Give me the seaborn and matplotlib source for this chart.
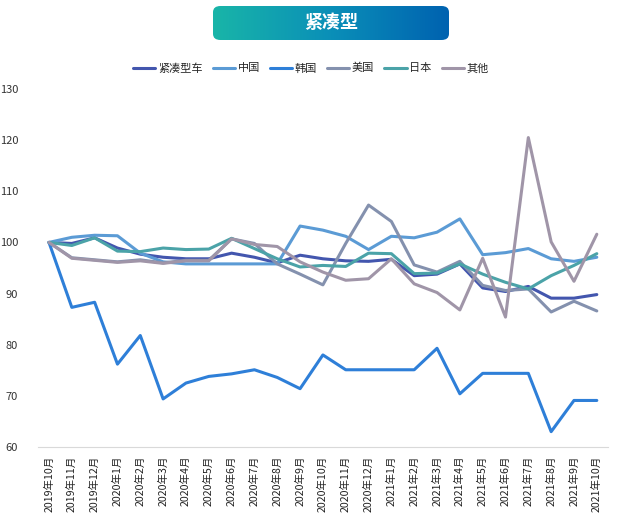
import numpy as np
import pandas as pd
import seaborn as sns
import matplotlib.pyplot as plt
from matplotlib.patches import FancyBboxPatch
from matplotlib.colors import LinearSegmentedColormap

months = ["2019年10月", "2019年11月", "2019年12月",
          "2020年1月", "2020年2月", "2020年3月", "2020年4月", "2020年5月", "2020年6月",
          "2020年7月", "2020年8月", "2020年9月", "2020年10月", "2020年11月", "2020年12月",
          "2021年1月", "2021年2月", "2021年3月", "2021年4月", "2021年5月", "2021年6月",
          "2021年7月", "2021年8月", "2021年9月", "2021年10月"]

compact = [100, 99.8, 100.9, 98.9, 97.7, 97.1, 96.8, 96.8, 97.9, 97.1, 96.0, 97.5, 96.8,
           96.4, 96.3, 96.7, 93.5, 93.8, 95.8, 91.1, 90.4, 91.4, 89.1, 89.1, 89.8]
china = [100, 101.0, 101.4, 101.3, 97.9, 96.2, 95.8, 95.8, 95.8, 95.8, 95.8, 103.2, 102.4,
         101.2, 98.6, 101.2, 100.9, 102.0, 104.6, 97.6, 98.0, 98.8, 96.8, 96.3, 97.1]
korea = [100, 87.3, 88.3, 76.2, 81.8, 69.4, 72.5, 73.8, 74.3, 75.1, 73.6, 71.4, 78.0,
         75.1, 75.1, 75.1, 75.1, 79.3, 70.4, 74.4, 74.4, 74.4, 63.0, 69.1, 69.1]
usa = [100, 97.0, 96.6, 96.2, 96.6, 96.0, 96.5, 96.5, 100.7, 99.8, 95.8, 93.8, 91.7,
       99.8, 107.3, 104.1, 95.6, 94.2, 96.3, 91.6, 90.6, 90.9, 86.4, 88.5, 86.6]
japan = [100, 99.4, 100.9, 98.3, 98.2, 98.9, 98.6, 98.7, 100.8, 98.8, 96.8, 95.2, 95.5,
         95.3, 97.9, 97.8, 93.9, 94.0, 95.8, 93.8, 92.2, 90.9, 93.5, 95.5, 97.8]
other = [100, 96.9, 96.5, 96.1, 96.4, 95.9, 96.4, 96.4, 100.7, 99.6, 99.2, 96.2, 94.2,
         92.6, 92.9, 96.8, 91.9, 90.2, 86.8, 96.9, 85.4, 120.5, 100.1, 92.4, 101.6]

series_names = ["紧凑型车", "中国", "韩国", "美国", "日本", "其他"]
series_values = [compact, china, korea, usa, japan, other]
colors = ["#4356AE", "#5B9BD5", "#2E7FD8", "#8491AE", "#4BA3A8", "#A095A8"]

df = pd.DataFrame({
    "月份": months * len(series_names),
    "系列": np.repeat(series_names, len(months)),
    "值": np.concatenate(series_values),
})

sns.set_style("white")
plt.rcParams["font.family"] = ["Noto Sans CJK SC", "DejaVu Sans"]

fig = plt.figure(figsize=(6.2, 5.17), dpi=100)
ax = fig.add_axes([0.0606, 0.1354, 0.9204, 0.6925])

sns.lineplot(data=df, x="月份", y="值", hue="系列", hue_order=series_names,
             palette=colors, linewidth=2.2, sort=False, ax=ax)

ax.set_ylim(60, 130)
ax.set_xlim(-0.5, len(months) - 0.5)
ax.set_yticks(range(60, 131, 10))
ax.set_xlabel("")
ax.set_ylabel("")
ax.set_xticks(range(len(months)))
ax.set_xticklabels(months, rotation=90, fontsize=7.6, color="#222222")
ax.set_xticks(np.arange(-0.5, len(months), 1), minor=True)
ax.tick_params(axis="x", which="major", length=0, pad=6)
ax.tick_params(axis="x", which="minor", length=5, color="#d9d9d9", width=0.8)
ax.tick_params(axis="y", length=0, labelsize=8, labelcolor="#333333", pad=14)
for s in ["top", "right", "left"]:
    ax.spines[s].set_visible(False)
ax.spines["bottom"].set_color("#d9d9d9")

ax.legend(loc="center", bbox_to_anchor=(0.479, 1.058), ncol=6, frameon=False,
          fontsize=8, handlelength=2.0, handletextpad=0.25, columnspacing=0.9)

# title banner with gradient
tx0, ty0, tw, th = 213 / 620, 1 - 40 / 517, 236 / 620, 34 / 517
box = FancyBboxPatch((tx0, ty0), tw, th, boxstyle="round,pad=0,rounding_size=0.012",
                     transform=fig.transFigure, facecolor="none", edgecolor="none")
fig.patches.append(box)
cmap = LinearSegmentedColormap.from_list("banner", ["#19B5A8", "#0A8FB8", "#0062B0"])
bax = fig.add_axes([tx0, ty0, tw, th])
bax.imshow(np.linspace(0, 1, 256).reshape(1, -1), cmap=cmap, aspect="auto",
           extent=[0, 1, 0, 1], clip_path=box)
bax.set_axis_off()
fig.text(tx0 + tw / 2, ty0 + th / 2, "紧凑型", ha="center", va="center",
         color="white", fontsize=13, fontweight="bold")

fig.savefig("out.png", dpi=100)
